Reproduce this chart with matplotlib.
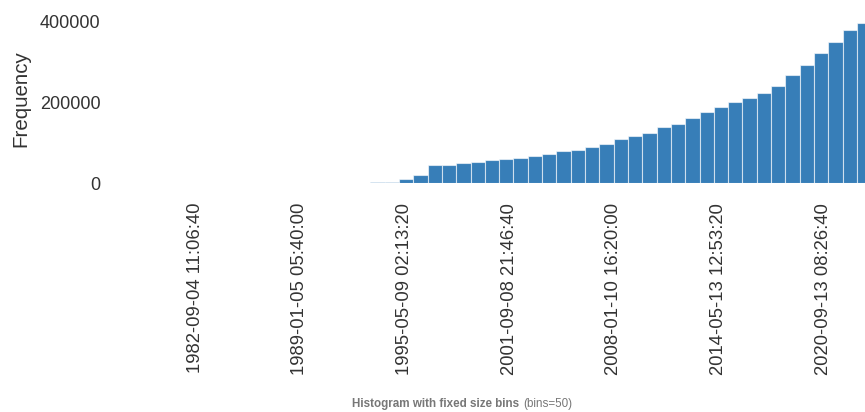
import matplotlib
matplotlib.use("Agg")
import matplotlib.pyplot as plt
import numpy as np

## DATI ##
# intervallo dei dati in secondi epoch (50 bin di larghezza fissa)
t_min = 3.249e8
t_max = 1.6919e9
n_bins = 50

# frequenze per bin
counts = [300, 250, 350, 300, 400, 350, 450, 500, 400, 550,
          600, 700, 900, 1400, 1800, 2200, 2600,
          10000, 20000, 44600, 45500, 50300, 52800, 56800, 61000, 62700,
          66800, 73400, 79200, 82500, 89100, 96500, 109000, 117000, 124700,
          139600, 147000, 161800, 176700, 188300, 200700, 212200, 224000,
          242000, 267800, 291700, 323000, 350000, 379000, 396500]

xticks = [4e8, 6e8, 8e8, 10e8, 12e8, 14e8, 16e8]
xtick_labels = ["1982-09-04 11:06:40", "1989-01-05 05:40:00", "1995-05-09 02:13:20",
                "2001-09-08 21:46:40", "2008-01-10 16:20:00", "2014-05-13 12:53:20",
                "2020-09-13 08:26:40"]
yticks = [0, 200000, 400000]
ytick_labels = ["0", "200000", "400000"]

plt.rcParams['font.family'] = ['Liberation Sans', 'DejaVu Sans']

W, H = 865, 412
fig = plt.figure(figsize=(W/100, H/100), dpi=100)

# area assi in pixel
ax_left, ax_right = 110, 865
ax_bottom = 183.3
ax = fig.add_axes([ax_left/W, (H - ax_bottom)/H, (ax_right - ax_left)/W, ax_bottom/H])

# scala: 104.7 px ogni 2e8 s, tick 4e8 a x=195
def px2t(x):
    return 4e8 + (x - 195)/104.7*2e8

edges = np.linspace(t_min, t_max, n_bins + 1)
ax.bar(edges[:-1], counts, width=np.diff(edges), align='edge',
       color='#377eb8', edgecolor=(1, 1, 1, 0.6), linewidth=0.8)

ax.set_xlim(px2t(ax_left), px2t(ax_right))
ax.set_ylim(0, 183.3/161.6*400000)

ax.set_xticks(xticks)
ax.set_xticklabels(xtick_labels, rotation=90, fontsize=13.3, color='#333333')
ax.set_yticks(yticks)
ax.set_yticklabels(ytick_labels, fontsize=13, color='#333333')
ax.tick_params(axis='both', length=0)
ax.tick_params(axis='x', pad=14)
ax.tick_params(axis='y', pad=7)

ax.set_ylabel("Frequency", fontsize=14.8, color='#333333')
ax.yaxis.set_label_coords((30.7 - ax_left)/(ax_right - ax_left), (ax_bottom - 98.5)/ax_bottom)

for s in ax.spines.values():
    s.set_visible(False)

# titolo in basso
fig.text(519/W, 8/H, "Histogram with fixed size bins", ha='right', va='center',
         fontsize=8.4, fontweight='bold', color='#777777')
fig.text(523/W, 8/H, "(bins=50)", ha='left', va='center',
         fontsize=8.4, color='#777777')

fig.savefig("out.png", dpi=100)
